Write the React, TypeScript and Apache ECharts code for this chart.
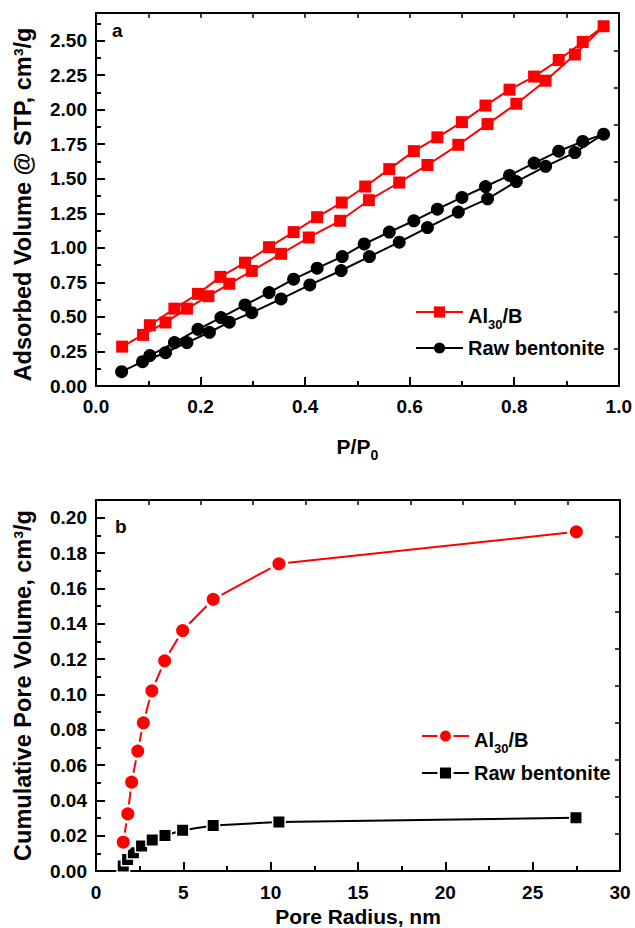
import React, { useEffect, useRef } from 'react';
import * as echarts from 'echarts';

// ---- Panel a: N2 isotherms (P/P0 vs adsorbed volume) ----
const alAdsP = [0.05, 0.09, 0.133, 0.174, 0.215, 0.255, 0.298, 0.354, 0.407, 0.467, 0.522, 0.58, 0.634, 0.693, 0.749, 0.804, 0.86, 0.916, 0.971];
const alAdsV = [0.285, 0.37, 0.46, 0.56, 0.65, 0.74, 0.833, 0.957, 1.075, 1.196, 1.345, 1.473, 1.6, 1.746, 1.896, 2.043, 2.21, 2.4, 2.604];
const alDesP = [0.931, 0.885, 0.838, 0.791, 0.745, 0.7, 0.653, 0.608, 0.561, 0.515, 0.47, 0.423, 0.378, 0.331, 0.285, 0.238, 0.195, 0.15, 0.103];
const alDesV = [2.49, 2.36, 2.24, 2.145, 2.03, 1.91, 1.8, 1.7, 1.57, 1.444, 1.328, 1.222, 1.114, 1.005, 0.893, 0.79, 0.667, 0.56, 0.44];

const rawAdsP = [0.049, 0.089, 0.133, 0.174, 0.217, 0.255, 0.298, 0.354, 0.409, 0.469, 0.523, 0.58, 0.634, 0.693, 0.749, 0.804, 0.86, 0.916, 0.971];
const rawAdsV = [0.104, 0.176, 0.241, 0.314, 0.389, 0.462, 0.531, 0.63, 0.732, 0.836, 0.937, 1.041, 1.147, 1.259, 1.355, 1.48, 1.59, 1.69, 1.823];
const rawDesP = [0.931, 0.885, 0.838, 0.791, 0.745, 0.7, 0.653, 0.608, 0.561, 0.513, 0.471, 0.423, 0.378, 0.331, 0.285, 0.239, 0.195, 0.15, 0.103];
const rawDesV = [1.77, 1.7, 1.614, 1.524, 1.444, 1.365, 1.28, 1.196, 1.114, 1.028, 0.937, 0.853, 0.773, 0.676, 0.587, 0.495, 0.41, 0.314, 0.22];

// ---- Panel b: cumulative pore volume vs pore radius ----
const alRadius = [1.56, 1.82, 2.04, 2.39, 2.71, 3.2, 3.93, 4.96, 6.71, 10.47, 27.5];
const alVolume = [0.0163, 0.0323, 0.0503, 0.0679, 0.0839, 0.102, 0.119, 0.1361, 0.1538, 0.1739, 0.192];
const rawRadius = [1.56, 1.81, 2.14, 2.61, 3.22, 3.95, 4.96, 6.71, 10.47, 27.48];
const rawVolume = [0.0028, 0.0065, 0.0103, 0.0141, 0.0175, 0.0201, 0.0231, 0.0257, 0.0278, 0.0301];

// ---- Axis ticks ----
const xTicksA = { min: 0, max: 1, interval: 0.2 };
const yTicksA = { min: 0, max: 2.7, interval: 0.25 };
const xTicksB = { min: 0, max: 30, interval: 5 };
const yTicksB = { min: 0, max: 0.21, interval: 0.02 };

const FONT = '"Liberation Sans", Arial, Helvetica, sans-serif';
const RED = '#ff0000';
const BLACK = '#000000';

const pairs = (xs: number[], ys: number[]) => xs.map((x, i) => [x, ys[i]]);
const isMult = (v: number, step: number) => Math.abs(v / step - Math.round(v / step)) < 1e-6;

export default function App() {
  const ref = useRef<HTMLDivElement>(null);

  useEffect(() => {
    if (!ref.current) return;
    const chart = echarts.init(ref.current, null, { renderer: 'svg' });

    const axisLine = { show: true, onZero: false, lineStyle: { color: BLACK, width: 2 } };
    const mainTick = { show: true, inside: true, length: 9, lineStyle: { color: BLACK, width: 2 } };
    const mainMinor = { show: true, splitNumber: 2, length: 5, lineStyle: { color: BLACK, width: 2 } };
    const sideTick = { show: true, inside: true, length: 5, lineStyle: { color: BLACK, width: 1.5 } };
    const labelBase = { fontFamily: FONT, fontWeight: 'bold', fontSize: 19, color: BLACK };
    const nameBase = { fontFamily: FONT, fontWeight: 'bold', color: BLACK };

    const mainAxis = (extra: any) => ({
      type: 'value',
      axisLine,
      axisTick: mainTick,
      minorTick: mainMinor,
      splitLine: { show: false },
      nameLocation: 'middle',
      ...extra,
    });
    const sideAxis = (extra: any) => ({
      type: 'value',
      axisLine,
      axisTick: sideTick,
      axisLabel: { show: false },
      splitLine: { show: false },
      ...extra,
    });

    const legendRich = {
      a: { ...nameBase, fontSize: 20, lineHeight: 20, verticalAlign: 'top', padding: [4, 0, 0, 0] },
      s: { ...nameBase, fontSize: 13, lineHeight: 13, verticalAlign: 'top', padding: [16, 0, 0, 0] },
      b: { ...nameBase, fontSize: 20, lineHeight: 20 },
    };
    const legendFormatter = (name: string) =>
      name.trim() === 'Al30/B' ? '{a|Al}{s|30}{a|/B}' : '{b|' + name.trim() + '}';

    chart.setOption({
      animation: false,
      backgroundColor: '#ffffff',
      textStyle: { fontFamily: FONT },
      title: [
        { text: 'a', left: 112, top: 21, padding: 0, textStyle: { ...nameBase, fontSize: 19 } },
        { text: 'b', left: 115, top: 517, padding: 0, textStyle: { ...nameBase, fontSize: 19 } },
      ],
      grid: [
        { left: 96, top: 13, width: 525, height: 373 },
        { left: 96, top: 500, width: 524, height: 373 },
      ],
      xAxis: [
        mainAxis({
          gridIndex: 0, position: 'bottom', ...xTicksA,
          axisLabel: { ...labelBase, margin: 11, formatter: (v: number) => v.toFixed(1) },
          name: '{m|P/P}{s|0}', nameGap: 50,
          nameTextStyle: {
            rich: {
              m: { ...nameBase, fontSize: 21, lineHeight: 22, verticalAlign: 'top' },
              s: { ...nameBase, fontSize: 14, lineHeight: 14, verticalAlign: 'top', padding: [12, 0, 0, 0] },
            },
          },
        }),
        sideAxis({ gridIndex: 0, position: 'top', min: 0, max: 1, interval: 0.1 }),
        mainAxis({
          gridIndex: 1, position: 'bottom', ...xTicksB,
          axisLabel: { ...labelBase, margin: 12, formatter: (v: number) => String(Math.round(v)) },
          name: 'Pore Radius, nm', nameGap: 35,
          nameTextStyle: { ...nameBase, fontSize: 21 },
        }),
        sideAxis({ gridIndex: 1, position: 'top', min: 0, max: 30, interval: 3 }),
      ],
      yAxis: [
        mainAxis({
          gridIndex: 0, position: 'left', ...yTicksA,
          axisLabel: { ...labelBase, margin: 9, formatter: (v: number) => (isMult(v, 0.25) ? v.toFixed(2) : '') },
          name: 'Adsorbed Volume @ STP, cm³/g', nameGap: 61, nameRotate: 90,
          nameTextStyle: { ...nameBase, fontSize: 23.5, padding: [0, 10, 0, 0] },
        }),
        sideAxis({ gridIndex: 0, position: 'right', min: 0, max: 2.7, interval: 0.27 }),
        mainAxis({
          gridIndex: 1, position: 'left', ...yTicksB,
          axisLabel: { ...labelBase, margin: 9, formatter: (v: number) => (isMult(v, 0.02) ? v.toFixed(2) : '') },
          name: 'Cumulative Pore Volume, cm³/g', nameGap: 61, nameRotate: 90,
          nameTextStyle: { ...nameBase, fontSize: 23.5 },
        }),
        sideAxis({ gridIndex: 1, position: 'right', min: 0, max: 0.21, interval: 0.021 }),
      ],
      legend: [
        {
          left: 415, top: 302, orient: 'vertical', padding: 0,
          itemWidth: 47, itemHeight: 14, itemGap: 7, selectedMode: false,
          data: ['Al30/B', 'Raw bentonite'],
          formatter: legendFormatter,
          textStyle: { rich: legendRich },
        },
        {
          left: 421, top: 726, orient: 'vertical', padding: 0,
          itemWidth: 47, itemHeight: 17, itemGap: 8, selectedMode: false,
          data: ['Al30/B ', 'Raw bentonite '],
          formatter: legendFormatter,
          textStyle: { rich: legendRich },
          itemStyle: { borderColor: '#ffffff', borderWidth: 2.5 },
        },
      ],
      series: [
        {
          name: 'Al30/B', type: 'line', xAxisIndex: 0, yAxisIndex: 0,
          data: [...pairs(alAdsP, alAdsV), ...pairs(alDesP, alDesV)],
          symbol: 'rect', symbolSize: 12,
          lineStyle: { color: RED, width: 2 }, itemStyle: { color: RED },
        },
        {
          name: 'Raw bentonite', type: 'line', xAxisIndex: 0, yAxisIndex: 0,
          data: [...pairs(rawAdsP, rawAdsV), ...pairs(rawDesP, rawDesV)],
          symbol: 'circle', symbolSize: 13,
          lineStyle: { color: BLACK, width: 2 }, itemStyle: { color: BLACK },
        },
        {
          name: 'Raw bentonite ', type: 'line', xAxisIndex: 2, yAxisIndex: 2,
          data: pairs(rawRadius, rawVolume),
          symbol: 'rect', symbolSize: 12.5,
          lineStyle: { color: BLACK, width: 2 },
          itemStyle: { color: BLACK, borderColor: '#ffffff', borderWidth: 1.5 },
        },
        {
          name: 'Al30/B ', type: 'line', xAxisIndex: 2, yAxisIndex: 2,
          data: pairs(alRadius, alVolume),
          symbol: 'circle', symbolSize: 16,
          lineStyle: { color: RED, width: 2 },
          itemStyle: { color: RED, borderColor: '#ffffff', borderWidth: 3 },
        },
      ],
    });

    return () => chart.dispose();
  }, []);

  return <div ref={ref} style={{ position: 'fixed', left: 0, top: 0, width: 635, height: 928 }} />;
}
